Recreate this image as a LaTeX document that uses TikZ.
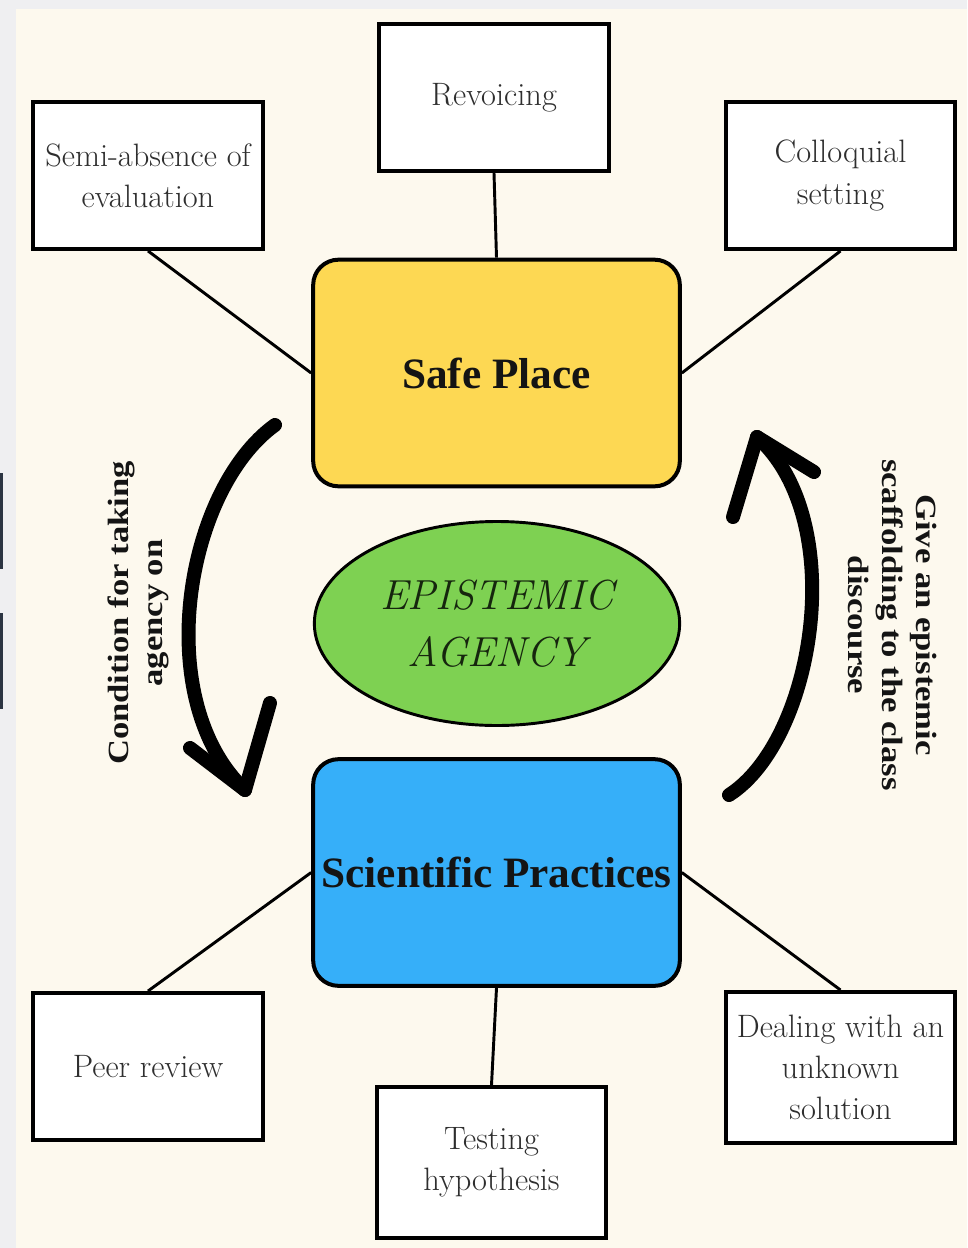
\documentclass[tikz,border=0pt]{standalone}
\usepackage{fontspec}
\newfontfamily\tnr{Liberation Serif}
\usetikzlibrary{shapes.geometric}
\definecolor{cream}{HTML}{FDF9EE}
\definecolor{sidegray}{HTML}{EFEFF1}
\definecolor{barcol}{HTML}{2B3442}
\definecolor{safeyellow}{HTML}{FDD853}
\definecolor{sciblue}{HTML}{36AFF9}
\definecolor{epigreen}{HTML}{7ED152}
\definecolor{boxtext}{HTML}{2E2E2E}
\definecolor{hubtext}{HTML}{141414}
\definecolor{epitext}{HTML}{16260E}
\begin{document}
\begin{tikzpicture}[x=0.75pt,y=-0.75pt,
  leaf/.style={draw=black, line width=3.2pt, fill=white, minimum width=172pt, minimum height=110pt,
    inner sep=0pt, align=center, text=boxtext, font=\addfontfeatures{FakeBold=0.5}\fontsize{24.3}{31}\selectfont},
  hub/.style={draw=black, line width=3pt, rounded corners=19pt, minimum width=275pt, minimum height=170pt,
    inner sep=0pt, align=center, text=hubtext, font=\tnr\bfseries\fontsize{32.5}{36}\selectfont},
  epi/.style={ellipse, draw=black, line width=2.2pt, fill=epigreen, minimum width=274pt, minimum height=153pt,
    inner sep=0pt, align=center, text=epitext, font=\itshape\addfontfeatures{FakeBold=0.4}\fontsize{31.5}{43}\selectfont},
  rotlabel/.style={inner sep=0pt, align=center, text=hubtext, font=\tnr\bfseries\fontsize{22}{25.5}\selectfont},
  link/.style={draw=black, line width=2.2pt},
  bigarrow/.style={draw=black, line width=10.5pt, line cap=round, line join=round}
]
\useasboundingbox (0,0) rectangle (967,1248);
\fill[sidegray] (0,0) rectangle (967,1248);
\fill[cream] (16,9) rectangle (967,1248);
\fill[barcol] (0,473) rectangle (2.5,569);
\fill[barcol] (0,613) rectangle (2.5,709);

% hubs
\node[hub, fill=safeyellow] (safe) at (496.5,373) {Safe Place};
\node[hub, fill=sciblue] (sci) at (496.5,872.5) {Scientific Practices};
\node[epi] (epi) at (497,623.5) {EPISTEMIC\\AGENCY};

% leaves
\node[leaf] (semi) at (148,175.5) {Semi-absence of\\evaluation};
\node[leaf] (rev) at (494,97.5) {Revoicing};
\node[leaf] (coll) at (840.5,175.5) {Colloquial\\setting};
\node[leaf] (peer) at (148,1066.5) {Peer review};
\node[leaf, minimum height=113pt] (test) at (491.5,1162.5) {Testing\\hypothesis};
\node[leaf, minimum height=113pt] (deal) at (840.5,1067.5) {Dealing with an\\unknown\\solution};

% links
\draw[link] (semi.south) -- (safe.west);
\draw[link] (rev.south) -- (safe.north);
\draw[link] (coll.south) -- (safe.east);
\draw[link] (sci.west) -- (peer.north);
\draw[link] (sci.south) -- (test.north);
\draw[link] (sci.east) -- (deal.north);

% curved arrows
\coordinate (la1) at (275,425);
\coordinate (la2) at (245,790);
\coordinate (lb1) at (190,748);
\coordinate (lb2) at (270,703);
\draw[bigarrow] (la1) .. controls (185,490) and (150,700) .. (la2);
\draw[bigarrow] (lb1) -- (la2) -- (lb2);

\coordinate (ra1) at (729,795);
\coordinate (ra2) at (757,437);
\coordinate (rb1) at (733,517);
\coordinate (rb2) at (814,472);
\draw[bigarrow] (ra1) .. controls (815,740) and (850,520) .. (ra2);
\draw[bigarrow] (rb1) -- (ra2) -- (rb2);

% rotated labels
\node[rotlabel, rotate=90, xscale=1.18] (lcap) at (138,613) {Condition for taking\\agency on};
\node[rotlabel, rotate=-90, xscale=1.18] (rcap) at (892,625) {Give an epistemic\\scaffolding to the class\\discourse};
\end{tikzpicture}
\end{document}
